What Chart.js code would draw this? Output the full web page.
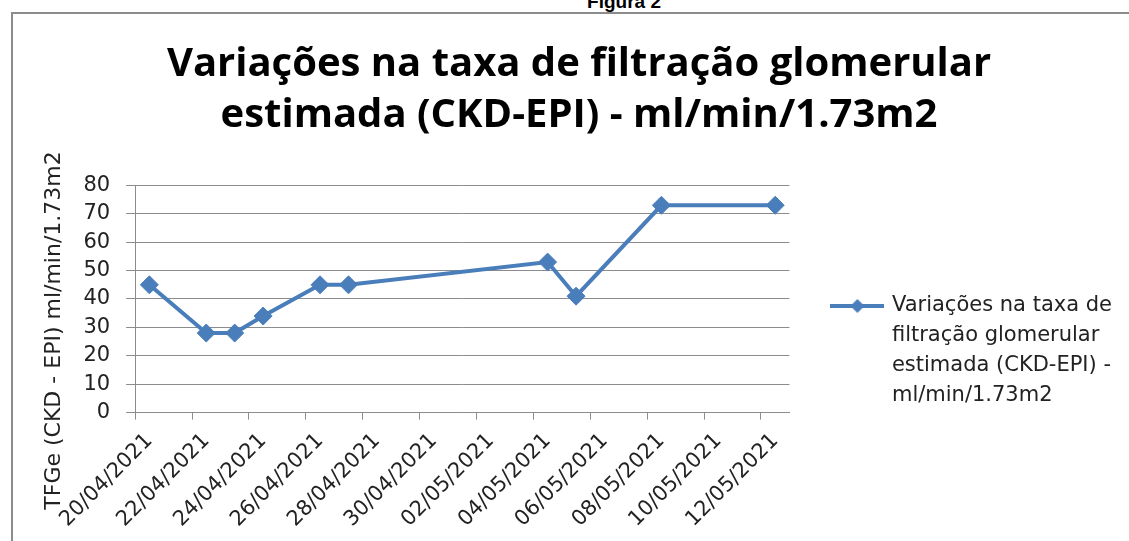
<!DOCTYPE html>
<html>
<head>
<meta charset="utf-8">
<script src="https://cdn.jsdelivr.net/npm/chart.js@4/dist/chart.umd.min.js"></script>
<style>
  html, body { margin: 0; padding: 0; background: #fff; width: 1129px; height: 541px; overflow: hidden; position: relative; }
  #fig { position: absolute; left: 524px; top: -8px; width: 200px; text-align: center;
         font: bold 19px "Liberation Sans", Arial, sans-serif; line-height: 19px; color: #000; }
  #frame { position: absolute; left: 11px; top: 12px; width: 1300px; height: 700px;
           border-top: 2px solid #8c8c8c; border-left: 2px solid #8c8c8c; }
  #c { position: absolute; left: 13px; top: 14px; }
</style>
</head>
<body>
<div id="fig">Figura 2</div>
<div id="frame"></div>
<canvas id="c" width="1124" height="527"></canvas>
<script>
// Category axis: every day from 20/04/2021 to 12/05/2021
const categories = [
  '20/04/2021','21/04/2021','22/04/2021','23/04/2021','24/04/2021','25/04/2021',
  '26/04/2021','27/04/2021','28/04/2021','29/04/2021','30/04/2021','01/05/2021',
  '02/05/2021','03/05/2021','04/05/2021','05/05/2021','06/05/2021','07/05/2021',
  '08/05/2021','09/05/2021','10/05/2021','11/05/2021','12/05/2021'
];
// Measurement dates and eGFR values
const measureDates = [
  '20/04/2021','22/04/2021','23/04/2021','24/04/2021','26/04/2021',
  '27/04/2021','04/05/2021','05/05/2021','08/05/2021','12/05/2021'
];
const tfgeValues = [45, 28, 28, 34, 45, 45, 53, 41, 73, 73];
const yTicks = [0, 10, 20, 30, 40, 50, 60, 70, 80];

const titleLines = ['Variações na taxa de filtração glomerular', 'estimada (CKD-EPI) - ml/min/1.73m2'];
const seriesLabel = 'Variações na taxa de filtração glomerular estimada (CKD-EPI) - ml/min/1.73m2';
const legendLines = ['Variações na taxa de', 'filtração glomerular', 'estimada (CKD-EPI) -', 'ml/min/1.73m2'];
const yTitle = 'TFGe (CKD - EPI) ml/min/1.73m2';

const BLUE = '#4a7ebb';
const GRID = '#8c8c8c';
const TXT = '#222';

// legend marker: line with a small diamond
const marker = document.createElement('canvas');
marker.width = 54; marker.height = 16;
(function () {
  const m = marker.getContext('2d');
  m.strokeStyle = BLUE; m.lineWidth = 4;
  m.beginPath(); m.moveTo(0, 8); m.lineTo(54, 8); m.stroke();
  m.fillStyle = BLUE;
  m.beginPath(); m.moveTo(27 - 7, 8); m.lineTo(27, 1); m.lineTo(27 + 7, 8); m.lineTo(27, 15); m.closePath(); m.fill();
})();

new Chart(document.getElementById('c'), {
  type: 'line',
  data: {
    labels: categories,
    datasets: [{
      label: seriesLabel,
      data: measureDates.map((d, i) => ({ x: d, y: tfgeValues[i] })),
      borderColor: BLUE,
      backgroundColor: BLUE,
      borderWidth: 4,
      tension: 0,
      pointStyle: 'rectRot',
      pointRadius: 9,
      pointHoverRadius: 9,
      pointBackgroundColor: BLUE,
      pointBorderColor: BLUE,
      pointBorderWidth: 1
    }]
  },
  options: {
    responsive: false,
    animation: false,
    devicePixelRatio: 1,
    layout: { padding: { left: 24, right: 16, top: 0, bottom: 0 } },
    plugins: {
      tooltip: { enabled: false },
      title: {
        display: true,
        text: titleLines,
        color: '#000',
        font: { family: '"Open Sans", "Liberation Sans", sans-serif', size: 40, weight: 'bold', lineHeight: 1.28 },
        padding: { top: 25, bottom: 44 }
      },
      legend: {
        position: 'right',
        align: 'center',
        maxWidth: 340,
        title: { display: true, text: ' ', font: { size: 10, lineHeight: 1 }, padding: { top: 146, bottom: 0 } },
        labels: {
          usePointStyle: true,
          pointStyleWidth: 48,
          padding: 44,
          color: TXT,
          font: { family: '"DejaVu Sans", sans-serif', size: 21, lineHeight: 1.43 },
          generateLabels: () => [{
            text: legendLines,
            pointStyle: marker,
            fillStyle: BLUE,
            strokeStyle: BLUE,
            lineWidth: 0,
            hidden: false,
            datasetIndex: 0,
            fontColor: TXT
          }]
        }
      }
    },
    scales: {
      x: {
        type: 'category',
        offset: true,
        border: { display: true, color: GRID, width: 1 },
        grid: {
          display: true,
          offset: true,
          drawOnChartArea: false,
          drawTicks: true,
          tickLength: 7,
          color: ctx => (ctx.index !== undefined && ctx.index % 2 === 0) ? GRID : 'rgba(0,0,0,0)'
        },
        ticks: {
          autoSkip: false,
          maxRotation: 45,
          minRotation: 45,
          padding: 9,
          color: TXT,
          font: { family: '"DejaVu Sans", sans-serif', size: 21 },
          callback: (v, i) => (i % 2 === 0 ? categories[i] : '')
        }
      },
      y: {
        min: 0,
        max: 80,
        afterBuildTicks: axis => { axis.ticks = yTicks.map(v => ({ value: v })); },
        border: { display: true, color: GRID, width: 1 },
        grid: { color: GRID, lineWidth: 1, tickLength: 9 },
        ticks: {
          autoSkip: false,
          padding: 16,
          color: TXT,
          font: { family: '"DejaVu Sans", sans-serif', size: 21 }
        },
        title: {
          display: true,
          text: yTitle + '\u00a0'.repeat(9),
          color: TXT,
          font: { family: '"DejaVu Sans", sans-serif', size: 22 },
          padding: { top: 4, bottom: 0 }
        }
      }
    }
  }
});
</script>
</body>
</html>
